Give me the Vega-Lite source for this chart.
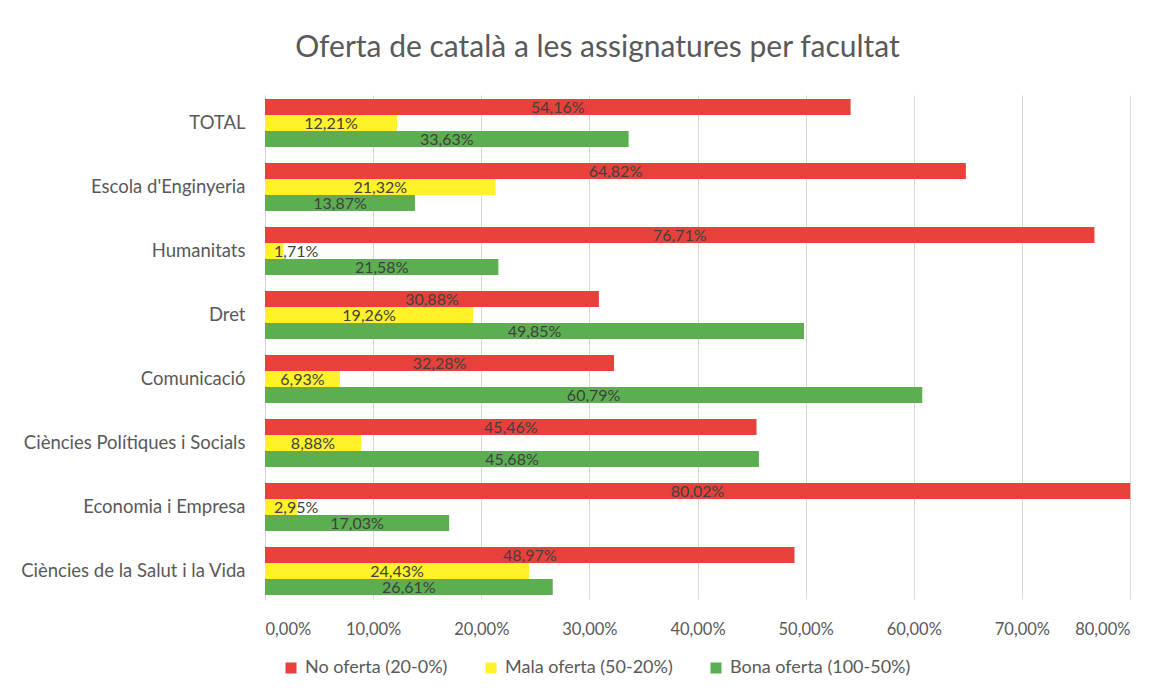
{
  "$schema": "https://vega.github.io/schema/vega-lite/v6.json",
  "width": 865,
  "height": 504,
  "autosize": {"type": "none"},
  "padding": {"left": 265, "top": 95, "right": 38, "bottom": 96},
  "background": "white",
  "title": {
    "text": "Oferta de català a les assignatures per facultat",
    "font": "Lato",
    "fontSize": 30,
    "fontWeight": "normal",
    "color": "#595959",
    "anchor": "middle",
    "baseline": "alphabetic",
    "offset": 8,
    "dx": -100
  },
  "data": {
    "values": [
      {"f": "TOTAL", "s": "No oferta (20-0%)", "v": 0.5416},
      {"f": "TOTAL", "s": "Mala oferta (50-20%)", "v": 0.1221},
      {"f": "TOTAL", "s": "Bona oferta (100-50%)", "v": 0.3363},
      {"f": "Escola d'Enginyeria", "s": "No oferta (20-0%)", "v": 0.6482},
      {"f": "Escola d'Enginyeria", "s": "Mala oferta (50-20%)", "v": 0.2132},
      {"f": "Escola d'Enginyeria", "s": "Bona oferta (100-50%)", "v": 0.1387},
      {"f": "Humanitats", "s": "No oferta (20-0%)", "v": 0.7671},
      {"f": "Humanitats", "s": "Mala oferta (50-20%)", "v": 0.0171},
      {"f": "Humanitats", "s": "Bona oferta (100-50%)", "v": 0.2158},
      {"f": "Dret", "s": "No oferta (20-0%)", "v": 0.3088},
      {"f": "Dret", "s": "Mala oferta (50-20%)", "v": 0.1926},
      {"f": "Dret", "s": "Bona oferta (100-50%)", "v": 0.4985},
      {"f": "Comunicació", "s": "No oferta (20-0%)", "v": 0.3228},
      {"f": "Comunicació", "s": "Mala oferta (50-20%)", "v": 0.0693},
      {"f": "Comunicació", "s": "Bona oferta (100-50%)", "v": 0.6079},
      {"f": "Ciències Polítiques i Socials", "s": "No oferta (20-0%)", "v": 0.4546},
      {"f": "Ciències Polítiques i Socials", "s": "Mala oferta (50-20%)", "v": 0.0888},
      {"f": "Ciències Polítiques i Socials", "s": "Bona oferta (100-50%)", "v": 0.4568},
      {"f": "Economia i Empresa", "s": "No oferta (20-0%)", "v": 0.8002},
      {"f": "Economia i Empresa", "s": "Mala oferta (50-20%)", "v": 0.0295},
      {"f": "Economia i Empresa", "s": "Bona oferta (100-50%)", "v": 0.1703},
      {"f": "Ciències de la Salut i la Vida", "s": "No oferta (20-0%)", "v": 0.4897},
      {"f": "Ciències de la Salut i la Vida", "s": "Mala oferta (50-20%)", "v": 0.2443},
      {"f": "Ciències de la Salut i la Vida", "s": "Bona oferta (100-50%)", "v": 0.2661}
    ]
  },
  "encoding": {
    "y": {
      "field": "f",
      "type": "nominal",
      "sort": null,
      "scale": {"paddingInner": 0.25, "paddingOuter": 0.0625},
      "axis": {
        "title": null,
        "labelFont": "Lato",
        "labelFontSize": 18.5,
        "labelColor": "#595959",
        "labelPadding": 20,
        "labelLimit": 400,
        "ticks": false,
        "domain": true,
        "domainColor": "#d9d9d9",
        "grid": false
      }
    },
    "yOffset": {
      "field": "s",
      "type": "nominal",
      "sort": ["No oferta (20-0%)", "Mala oferta (50-20%)", "Bona oferta (100-50%)"],
      "scale": {"paddingInner": 0, "paddingOuter": 0}
    }
  },
  "layer": [
    {
      "mark": {"type": "bar"},
      "encoding": {
        "x": {
          "field": "v",
          "type": "quantitative",
          "scale": {"domain": [0, 0.8], "nice": false},
          "axis": {
            "title": null,
            "format": ".2%",
            "values": [0, 0.1, 0.2, 0.3, 0.4, 0.5, 0.6, 0.7, 0.8],
            "labelFont": "Lato",
            "labelFontSize": 16.5,
            "labelColor": "#595959",
            "labelPadding": 22,
            "ticks": false,
            "domain": false,
            "grid": true,
            "gridColor": "#d9d9d9"
          }
        },
        "color": {
          "field": "s",
          "type": "nominal",
          "sort": ["No oferta (20-0%)", "Mala oferta (50-20%)", "Bona oferta (100-50%)"],
          "scale": {
            "domain": ["No oferta (20-0%)", "Mala oferta (50-20%)", "Bona oferta (100-50%)"],
            "range": ["#E8403A", "#FFF22A", "#5BAF50"]
          },
          "legend": {
            "title": null,
            "orient": "none",
            "direction": "horizontal",
            "legendX": 17,
            "legendY": 564,
            "symbolType": "square",
            "symbolSize": 121,
            "symbolStrokeWidth": 0,
            "labelFont": "Lato",
            "labelFontSize": 18,
            "labelColor": "#595959",
            "labelOffset": 5,
            "labelLimit": 400,
            "columnPadding": 34
          }
        }
      }
    },
    {
      "transform": [{"filter": "datum.v >= 0.05"}],
      "mark": {"type": "text", "font": "Lato", "fontSize": 16, "color": "#404040", "baseline": "middle", "align": "center", "dy": 1},
      "encoding": {
        "x": {
          "field": "v",
          "type": "quantitative",
          "scale": {"domain": [0, 1.6], "nice": false},
          "axis": null
        },
        "text": {"field": "v", "type": "quantitative", "format": ".2%"}
      }
    },
    {
      "transform": [{"filter": "datum.v < 0.05"}],
      "mark": {"type": "text", "font": "Lato", "fontSize": 16, "color": "#404040", "baseline": "middle", "align": "left", "dx": 9, "dy": 1},
      "encoding": {
        "x": {
          "datum": 0,
          "type": "quantitative",
          "scale": {"domain": [0, 1.6], "nice": false},
          "axis": null
        },
        "text": {"field": "v", "type": "quantitative", "format": ".2%"}
      }
    }
  ],
  "resolve": {"scale": {"x": "independent"}},
  "config": {
    "view": {"stroke": null},
    "locale": {
      "number": {"decimal": ",", "thousands": ".", "grouping": [3], "currency": ["", " €"]}
    }
  }
}
